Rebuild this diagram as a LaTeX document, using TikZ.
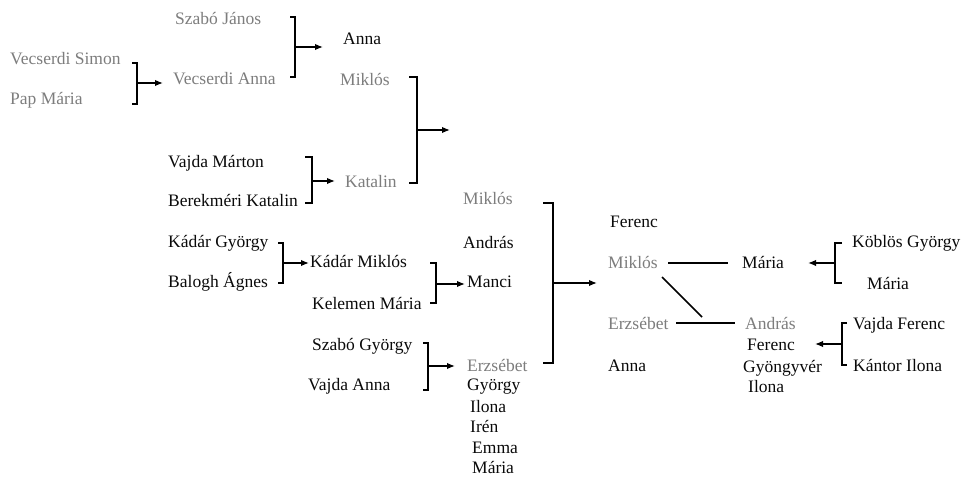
\documentclass[tikz,border=0pt]{standalone}
\usepackage{fontspec}
\setmainfont{Liberation Serif}
\usetikzlibrary{arrows.meta}
\definecolor{gtxt}{RGB}{125,125,125}
\definecolor{btxt}{RGB}{10,10,10}
\tikzset{
  nm/.style={anchor=west, inner sep=0pt, text height=13bp, text depth=3bp, text=btxt, font=\fontsize{17.5bp}{21bp}\selectfont},
  gnm/.style={nm, text=gtxt},
  ln/.style={line width=1.5bp, black},
  arr/.style={ln, -{Latex[length=8bp,width=6.5bp]}}
}
\begin{document}
\begin{tikzpicture}[x=1bp,y=-1bp]
\useasboundingbox[fill=white] (0,0) rectangle (966,478);
% gray names
\node[gnm] (sj) at (175,20) {Szabó János};
\node[gnm] (vs) at (10,60) {Vecserdi Simon};
\node[gnm] (pm) at (10,100) {Pap Mária};
\node[gnm] (va) at (173,80) {Vecserdi Anna};
\node[gnm] (m1) at (340,81) {Miklós};
\node[gnm] (kat) at (345,183) {Katalin};
\node[gnm] (m2) at (463,200) {Miklós};
\node[gnm] (erz1) at (467,366) {Erzsébet};
\node[gnm] (m3) at (608,264) {Miklós};
\node[gnm] (erz2) at (608,325) {Erzsébet};
\node[gnm] (and2) at (745,325) {András};
% black names
\node[nm] (anna1) at (343,40) {Anna};
\node[nm] (vm) at (168,163) {Vajda Márton};
\node[nm] (bk) at (168,202) {Berekméri Katalin};
\node[nm] (kgy) at (168,243) {Kádár György};
\node[nm] (ba) at (168,283) {Balogh Ágnes};
\node[nm] (km) at (310,263) {Kádár Miklós};
\node[nm] (kem) at (312,305) {Kelemen Mária};
\node[nm] (and1) at (463,244) {András};
\node[nm] (manci) at (467,283) {Manci};
\node[nm] (sgy) at (312,345) {Szabó György};
\node[nm] (vaa) at (308,385) {Vajda Anna};
\node[nm] (gy) at (467,385) {György};
\node[nm] (il) at (470,407) {Ilona};
\node[nm] (ir) at (470,427) {Irén};
\node[nm] (em) at (472,448) {Emma};
\node[nm] (ma) at (472,468) {Mária};
\node[nm] (fer) at (610,223) {Ferenc};
\node[nm] (anna2) at (608,366) {Anna};
\node[nm] (mar) at (742,264) {Mária};
\node[nm] (kob) at (852,243) {Köblös György};
\node[nm] (mar2) at (867,285) {Mária};
\node[nm] (vf) at (853,325) {Vajda Ferenc};
\node[nm] (ki) at (853,366) {Kántor Ilona};
\node[nm] (fer2) at (747,345) {Ferenc};
\node[nm] (gyo) at (743,367) {Gyöngyvér};
\node[nm] (il2) at (748,387) {Ilona};
% brackets
\draw[ln] (132,63) -- (137,63) -- (137,104) -- (132,104);
\draw[arr] (137,83) -- (163,83);
\draw[ln] (290,17) -- (295,17) -- (295,77) -- (290,77);
\draw[arr] (295,47) -- (323,47);
\draw[ln] (305,157) -- (312,157) -- (312,203) -- (305,203);
\draw[arr] (312,181) -- (335,181);
\draw[ln] (409,77) -- (417,77) -- (417,183) -- (409,183);
\draw[arr] (417,130) -- (450,130);
\draw[ln] (278,243) -- (283,243) -- (283,283) -- (278,283);
\draw[arr] (283,263) -- (309,263);
\draw[ln] (430,263) -- (436,263) -- (436,303) -- (430,303);
\draw[arr] (436,284) -- (465,284);
\draw[ln] (423,343) -- (428,343) -- (428,390) -- (423,390);
\draw[arr] (428,366) -- (455,366);
\draw[ln] (543,203) -- (553,203) -- (553,363) -- (543,363);
\draw[arr] (553,283) -- (597,283);
\draw[ln] (842,243) -- (835,243) -- (835,283) -- (842,283);
\draw[arr] (835,263) -- (808,263);
\draw[ln] (847,323) -- (842,323) -- (842,365) -- (847,365);
\draw[arr] (842,344) -- (815,344);
% marriage lines
\draw[ln] (668,263) -- (728,263);
\draw[ln] (662,277) -- (702,317);
\draw[ln] (676,323) -- (735,323);
\end{tikzpicture}
\end{document}
